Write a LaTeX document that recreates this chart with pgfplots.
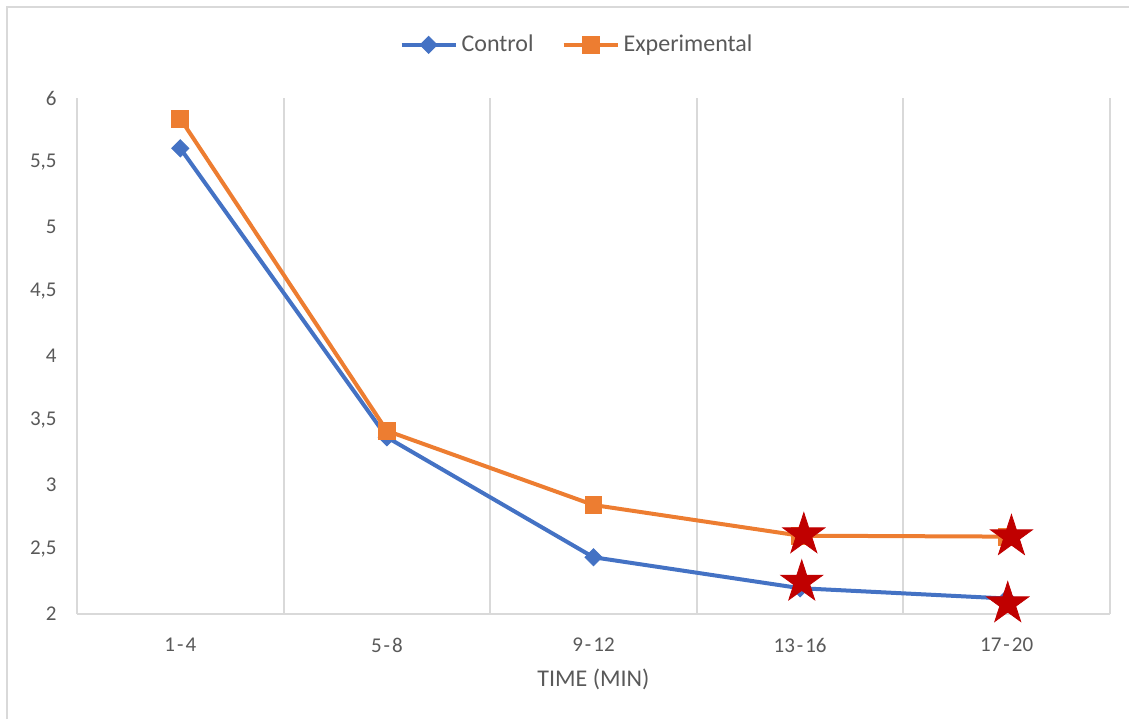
\documentclass[border=0pt]{standalone}
\usepackage{pgfplots}
\pgfplotsset{compat=1.18}
\usepackage{fontspec}
\setmainfont{Carlito}
\definecolor{ctrl}{HTML}{4472C4}
\definecolor{expc}{HTML}{ED7D31}
\definecolor{starred}{HTML}{C00000}
\definecolor{gridc}{HTML}{D9D9D9}
\definecolor{txt}{HTML}{595959}
% filled five-point star
\pgfdeclareplotmark{fstar}{%
  \pgfpathmoveto{\pgfpointpolar{90}{\pgfplotmarksize}}%
  \pgfpathlineto{\pgfpointpolar{126}{0.382\pgfplotmarksize}}%
  \pgfpathlineto{\pgfpointpolar{162}{\pgfplotmarksize}}%
  \pgfpathlineto{\pgfpointpolar{198}{0.382\pgfplotmarksize}}%
  \pgfpathlineto{\pgfpointpolar{234}{\pgfplotmarksize}}%
  \pgfpathlineto{\pgfpointpolar{270}{0.382\pgfplotmarksize}}%
  \pgfpathlineto{\pgfpointpolar{306}{\pgfplotmarksize}}%
  \pgfpathlineto{\pgfpointpolar{342}{0.382\pgfplotmarksize}}%
  \pgfpathlineto{\pgfpointpolar{18}{\pgfplotmarksize}}%
  \pgfpathlineto{\pgfpointpolar{54}{0.382\pgfplotmarksize}}%
  \pgfpathclose
  \pgfusepathqfillstroke}
\begin{document}
\begin{tikzpicture}[x=1pt,y=1pt]
\useasboundingbox (0,0) rectangle (564.5,359.5);
\draw[gridc, line width=1pt] (3.5,0) -- (3.5,356) -- (564.5,356);
\begin{axis}[
  at={(38.5pt,52.5pt)}, anchor=south west,
  scale only axis, width=516.5pt, height=258pt,
  xmin=-0.5, xmax=4.5, ymin=2, ymax=6,
  clip=false,
  xtick={0,...,4},
  xticklabels={1\kern1pt-\kern1pt4, 5\kern1pt-\kern1pt8, 9\kern1pt-\kern1pt12, 13\kern1pt-\kern1pt16, 17\kern1pt-\kern1pt20},
  minor xtick={-0.5,0.5,...,4.5},
  xminorgrids,
  minor grid style={gridc, line width=1pt},
  ytick={2,2.5,...,6},
  major tick length=0pt, minor tick length=0pt,
  axis lines*=left,
  x axis line style={gridc, line width=1pt, -},
  y axis line style={draw=none},
  /pgf/number format/.cd, use comma, assume math mode=true, /pgfplots/.cd,
  xticklabel style={font=\fontsize{10.5}{12}\selectfont, text=txt, anchor=center, yshift=-15.5pt},
  yticklabel style={font=\fontsize{10.5}{12}\selectfont, text=txt, anchor=east, inner sep=0pt, xshift=-10pt},
  xlabel={TIME (MIN)},
  xlabel style={font=\fontsize{12}{14}\selectfont, text=txt, at={(axis description cs:0.5,0)}, anchor=center, yshift=-32.5pt},
  legend style={at={(0.485,1.103)}, anchor=center, draw=none, fill=none,
    font=\fontsize{12}{14}\selectfont, text=txt, legend columns=2,
    /tikz/every even column/.append style={column sep=12pt}},
  legend image code/.code={\draw[mark repeat=2,mark phase=2] plot coordinates {(0pt,0pt) (13.5pt,0pt) (27pt,0pt)};},
]
\addplot[ctrl, line width=2pt, mark=square*, mark size=3pt, mark options={rotate=45, fill=ctrl, line width=0.5pt}]
  coordinates {(0,5.61) (1,3.37) (2,2.44) (3,2.20) (4,2.12)};
\addlegendentry{Control}
\addplot[expc, line width=2pt, mark=square*, mark size=4.2pt, mark options={fill=expc, line width=0.5pt}]
  coordinates {(0,5.84) (1,3.42) (2,2.845) (3,2.607) (4,2.60)};
\addlegendentry{Experimental}
\addplot[only marks, mark=fstar, mark size=11pt, color=starred, fill=starred, line width=0.4pt, forget plot]
  coordinates {(3.018,2.615) (3.008,2.248) (4.023,2.60) (4.005,2.08)};
\end{axis}
\end{tikzpicture}
\end{document}
